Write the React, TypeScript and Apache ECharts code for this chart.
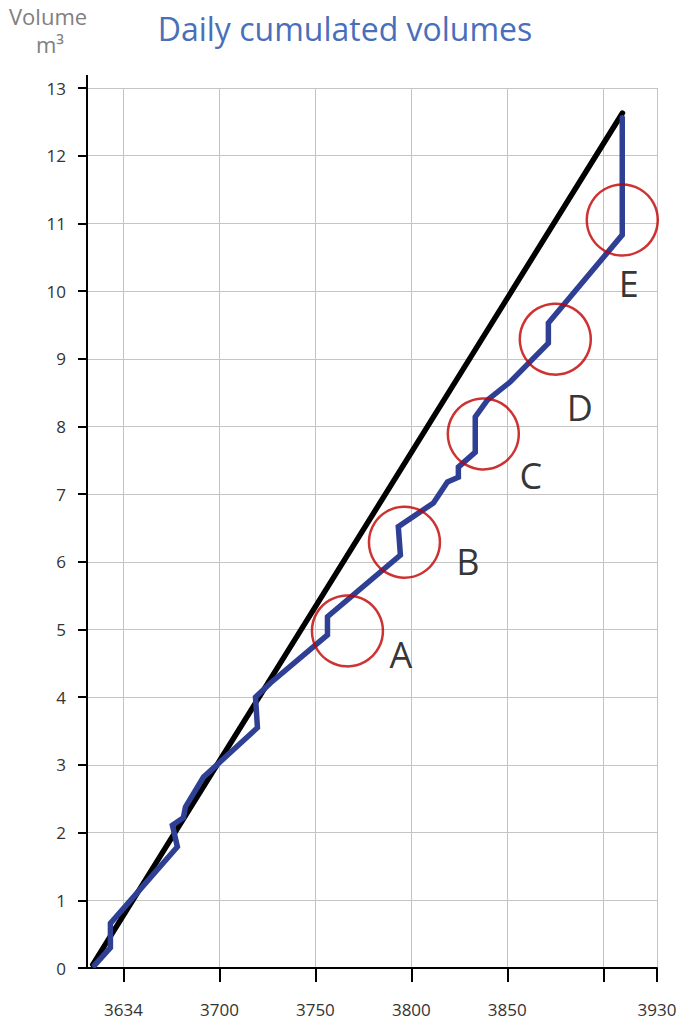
import React, { useEffect, useRef } from "react";
import * as echarts from "echarts";

const xTicks = [3650, 3700, 3750, 3800, 3850, 3900, 3928];
const xTickLabels = ["3634", "3700", "3750", "3800", "3850", "", "3930"];

const blackX = [3634, 3910];
const blackY = [0.05, 12.63];

const blueX = [3634.9, 3643.2, 3643.2, 3678.1, 3675.5, 3681.2, 3682.3, 3691.7, 3719.8, 3718.8, 3726.6, 3756.3, 3756.3, 3794.3, 3793.2, 3811.5, 3818.8, 3824.5, 3824.5, 3833.3, 3833.3, 3839.6, 3851.6, 3871.4, 3871.4, 3909.9, 3909.9];
const blueY = [0.04, 0.3, 0.66, 1.79, 2.11, 2.22, 2.38, 2.82, 3.55, 4.0, 4.21, 4.92, 5.19, 6.1, 6.52, 6.87, 7.18, 7.25, 7.4, 7.62, 8.14, 8.39, 8.66, 9.23, 9.53, 10.83, 12.56];

const circleX = [3766.7, 3796.4, 3837.5, 3875, 3909.9];
const circleY = [4.98, 6.29, 7.89, 9.29, 11.05];

const letters = ["A", "B", "C", "D", "E"];
const letterX = [3794.8, 3829.7, 3862.5, 3888, 3913.5];
const letterY = [4.62, 6.0, 7.27, 8.27, 10.1];

const FONT = "'Open Sans', 'Noto Sans', sans-serif";

export default function App() {
  const ref = useRef<HTMLDivElement>(null);
  useEffect(() => {
    if (!ref.current) return;
    const chart = echarts.init(ref.current, undefined, { renderer: "svg" });
    chart.setOption({
      animation: false,
      textStyle: { fontFamily: FONT },
      title: {
        text: "Daily cumulated volumes",
        left: 340,
        textAlign: "center",
        top: 7,
        textStyle: { color: "#4a6fba", fontSize: 32, fontWeight: "normal", fontFamily: FONT },
      },
      graphic: [
        { type: "text", left: 9, top: 5, style: { text: "Volume", fill: "#808080", fontSize: 22, fontFamily: FONT } },
        { type: "text", left: 36, top: 33, style: { text: "m³", fill: "#808080", fontSize: 22, fontFamily: FONT } },
        { type: "line", shape: { x1: 87, y1: 75, x2: 87, y2: 89 }, style: { stroke: "#000", lineWidth: 2 } },
      ],
      grid: { left: 87, right: 27, top: 88, bottom: 55, containLabel: false },
      xAxis: {
        type: "value",
        min: 3631,
        max: 3928,
        axisLine: { show: true, lineStyle: { color: "#000", width: 2 } },
        axisTick: { show: true, customValues: xTicks, length: 14, lineStyle: { color: "#000", width: 2 } },
        axisLabel: {
          customValues: xTicks,
          margin: 33,
          fontSize: 17,
          color: "#333",
          fontFamily: FONT,
          formatter: (v: number) => {
            const i = xTicks.findIndex((t) => Math.abs(t - v) < 0.01);
            return i >= 0 ? xTickLabels[i] : "";
          },
        },
        splitLine: { show: true, lineStyle: { color: "#c4c4c4", width: 1 } },
      },
      yAxis: {
        type: "value",
        min: 0,
        max: 13,
        interval: 1,
        axisLine: { show: true, lineStyle: { color: "#000", width: 2 } },
        axisTick: { show: true, length: 9, lineStyle: { color: "#000", width: 2 } },
        axisLabel: { margin: 21, fontSize: 17, color: "#333", fontFamily: FONT },
        splitLine: { show: true, lineStyle: { color: "#c4c4c4", width: 1 } },
      },
      series: [
        {
          type: "line",
          data: blackX.map((x, i) => [x, blackY[i]]),
          symbol: "none",
          lineStyle: { color: "#000", width: 5.5, cap: "round", join: "round" },
          z: 2,
        },
        {
          type: "line",
          data: blueX.map((x, i) => [x, blueY[i]]),
          symbol: "none",
          lineStyle: { color: "#2e3f94", width: 5.5, cap: "round", join: "miter" },
          z: 3,
        },
        {
          type: "scatter",
          data: circleX.map((x, i) => [x, circleY[i]]),
          symbol: "circle",
          symbolSize: 71,
          itemStyle: { color: "rgba(0,0,0,0)", borderColor: "#c00000", borderWidth: 2.5 },
          z: 4,
        },
        {
          type: "scatter",
          data: letterX.map((x, i) => ({ value: [x, letterY[i]], name: letters[i] })),
          symbol: "circle",
          symbolSize: 1,
          itemStyle: { color: "rgba(0,0,0,0)" },
          label: {
            show: true,
            position: [0, 0],
            align: "center",
            verticalAlign: "middle",
            formatter: (p: any) => p.name,
            fontSize: 36,
            color: "#000",
            textBorderWidth: 0,
            fontFamily: FONT,
          },
          z: 5,
        },
      ],
    });
    return () => chart.dispose();
  }, []);
  return <div ref={ref} style={{ position: "absolute", left: 0, top: 0, width: 684, height: 1023 }} />;
}
